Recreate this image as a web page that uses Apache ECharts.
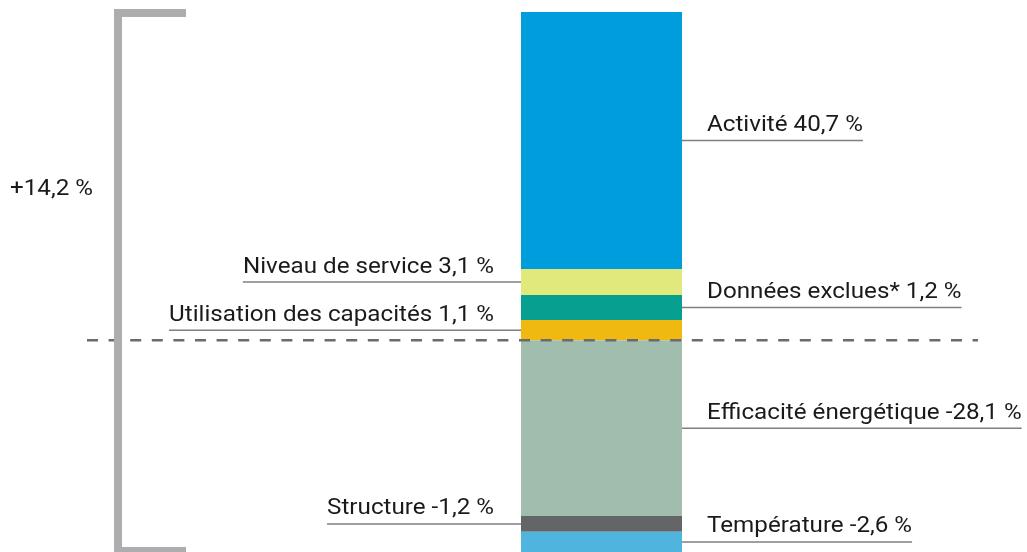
<!DOCTYPE html>
<html><head><meta charset="utf-8">
<script src="https://cdn.jsdelivr.net/npm/echarts@6/dist/echarts.min.js"></script>
<style>html,body{margin:0;padding:0;background:#fff}#c{width:1027px;height:552px}</style>
</head><body><div id="c"></div>
<script>
// ---- data ----
const categories = ['Utilisation des capacités', 'Données exclues*', 'Niveau de service', 'Activité',
                    'Efficacité énergétique', 'Structure', 'Température'];
const labelValues = ['1,1', '1,2', '3,1', '40,7', '-28,1', '-1,2', '-2,6'];
// segment heights as drawn in the picture (small segments are enlarged in the original)
const barHeights = [3.2, 4.0, 4.1, 40.8, -27.9, -2.5, -3.2];
const totalLabel = '+14,2 %';

// ---- styles / layout ----
const colors = ['#f0b912', '#079f8f', '#e1e87c', '#009ddc', '#a1bdae', '#646567', '#4fb5df'];
const sides = ['left', 'right', 'left', 'right', 'right', 'left', 'right'];
const FONT = '22px Roboto';
const SX = 1.1;
const TEXT_COLOR = '#1a1a1a';
const LINE_COLOR = '#7f7f7f';

const chart = echarts.init(document.getElementById('c'), null, { renderer: 'canvas' });
const series = categories.map((name, i) => ({
  name: name, type: 'bar', stack: 'total', barWidth: '100%',
  itemStyle: { color: colors[i] }, data: [barHeights[i]], silent: true, z: 1
}));
chart.setOption({
  animation: false,
  grid: { left: 521, width: 161, top: 12, bottom: 0, containLabel: false },
  xAxis: { type: 'category', data: [''], show: false },
  yAxis: { type: 'value', min: -33.6, max: 52.1, show: false, splitLine: { show: false } },
  series: series
});

const ctx = document.createElement('canvas').getContext('2d');
ctx.font = FONT;
const tw = t => ctx.measureText(t).width * SX;

const yPix = v => chart.convertToPixel({ yAxisIndex: 0 }, v);
const barLeft = 521, barRight = 682;

function label(text, x, y, align) {
  return { type: 'text', z: 6, x: x, y: y, scaleX: SX, scaleY: 1,
    style: { text: text, x: 0, y: 0, font: FONT, fill: TEXT_COLOR,
      textAlign: align, textVerticalAlign: 'middle' } };
}

const graphics = [];
let pos = 0, neg = 0;
categories.forEach((name, i) => {
  const h = barHeights[i];
  let a, b;
  if (h >= 0) { a = pos; b = pos + h; pos = b; } else { a = neg; b = neg + h; neg = b; }
  const yMid = (yPix(a) + yPix(b)) / 2;
  const text = name + ' ' + labelValues[i] + ' %';
  const w = tw(text);
  if (sides[i] === 'left') {
    const xEnd = barLeft - 27;
    graphics.push({ type: 'line', z: 5, shape: { x1: xEnd - w, y1: yMid, x2: barLeft, y2: yMid },
      style: { stroke: LINE_COLOR, lineWidth: 1.5 } });
    graphics.push(label(text, xEnd, yMid - 15, 'right'));
  } else {
    const xStart = barRight + 25;
    graphics.push({ type: 'line', z: 5, shape: { x1: barRight, y1: yMid, x2: xStart + w, y2: yMid },
      style: { stroke: LINE_COLOR, lineWidth: 1.5 } });
    graphics.push(label(text, xStart, yMid - 15, 'left'));
  }
});

const y0 = yPix(0), yTop = yPix(pos), yBot = yPix(neg);
// dashed zero line
graphics.push({ type: 'line', z: 10, shape: { x1: 87, y1: y0, x2: 978, y2: y0 },
  style: { stroke: '#6b6b6b', lineWidth: 2.5, lineDash: [11, 10.6] } });
// bracket of the total
graphics.push({ type: 'polyline', z: 20,
  shape: { points: [[186, yTop + 1], [118, yTop + 1], [118, yBot - 1], [186, yBot - 1]] },
  style: { stroke: '#adadb0', lineWidth: 8, fill: null, lineJoin: 'miter', lineCap: 'butt' } });
graphics.push(label(totalLabel, 10, 189, 'left'));

chart.setOption({ graphic: { elements: graphics } });
</script></body></html>
